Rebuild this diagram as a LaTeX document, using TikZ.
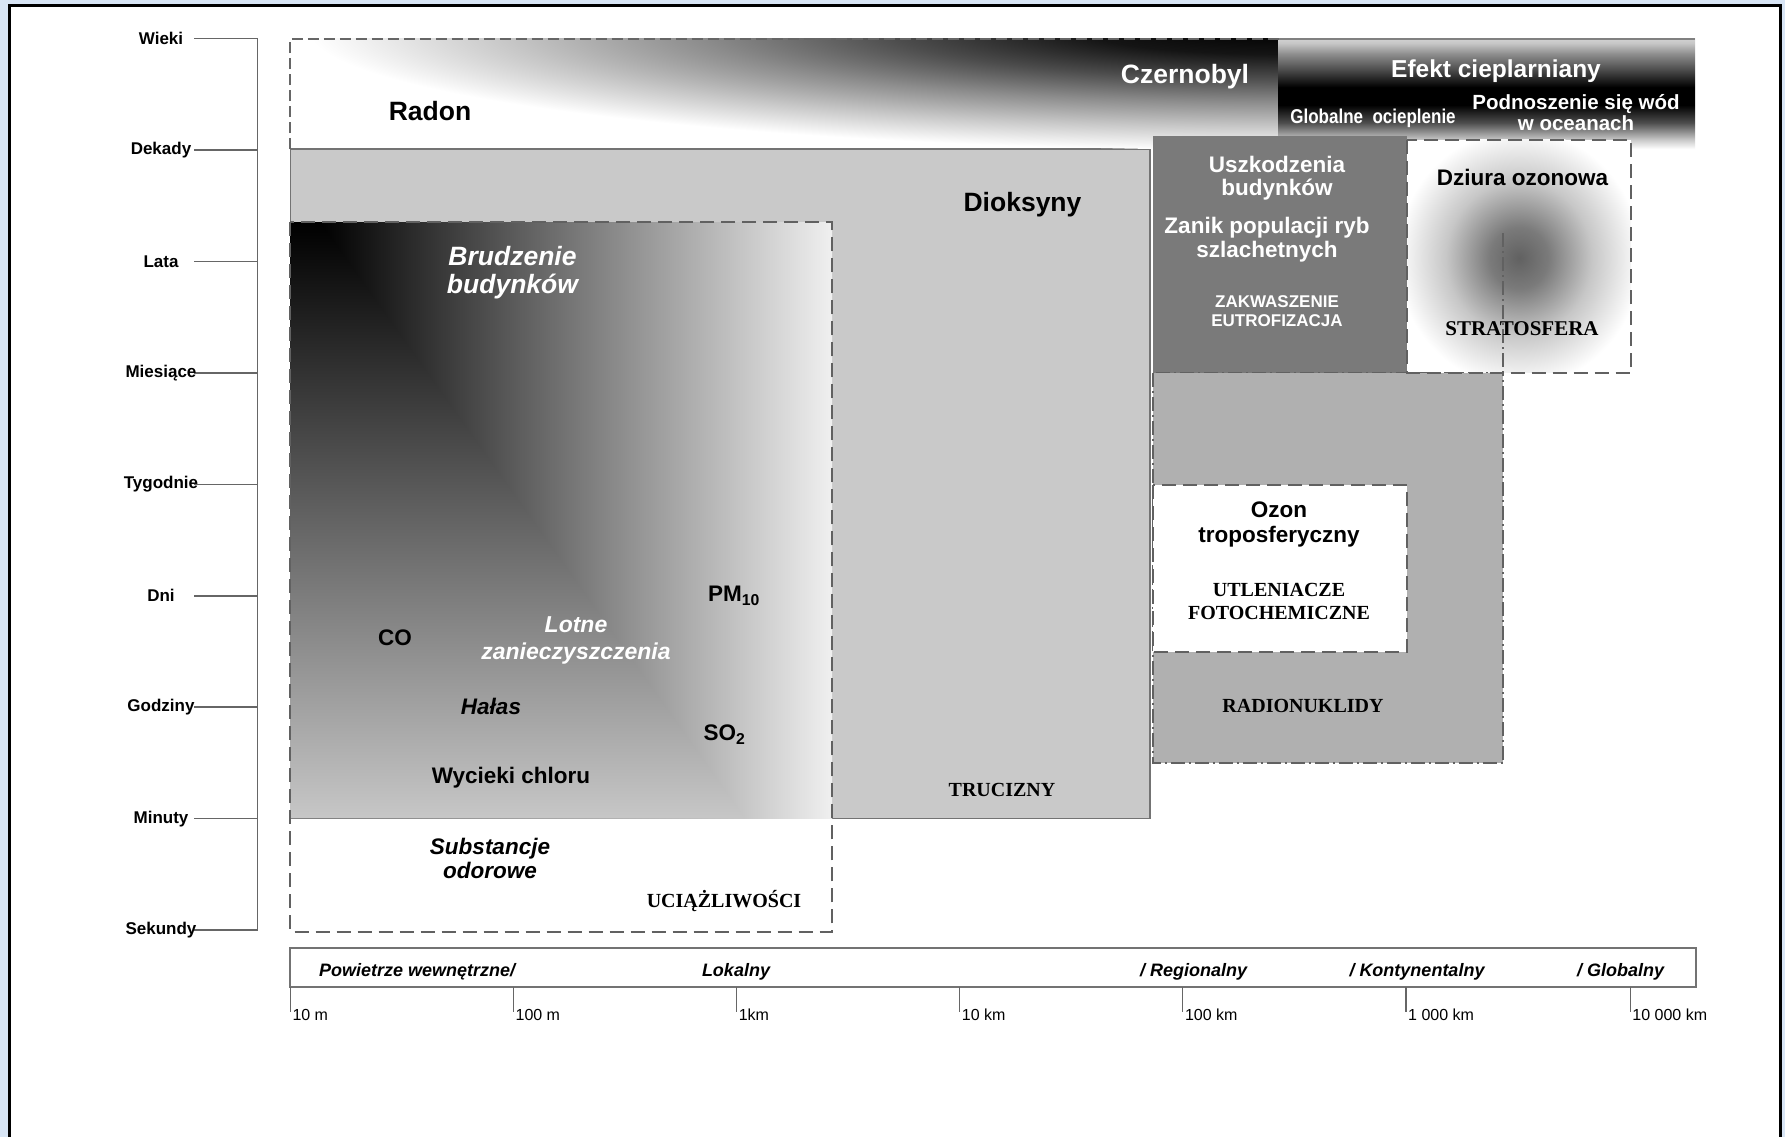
\documentclass[tikz,border=0pt]{standalone}
\usepackage{fontspec}
\setmainfont{Liberation Sans}
\newfontfamily\serifb{Liberation Serif}
\newfontfamily\narrowf[FakeStretch=0.85]{Liberation Sans}
\newcommand{\mfs}[2]{\fontsize{#1}{#2}\selectfont}
\definecolor{bgblue}{RGB}{216,229,245}
\pgfdeclareradialshading{radonsh}{\pgfpoint{0bp}{0bp}}{color(0bp)=(black); color(5bp)=(black!92); color(10bp)=(black!70); color(15bp)=(black!45); color(20bp)=(black!22); color(25bp)=(white); color(50bp)=(white)}
\pgfdeclareradialshading{ozonesh}{\pgfpoint{0bp}{0bp}}{color(0bp)=(black!62); color(6bp)=(black!52); color(15bp)=(black!22); color(25bp)=(white); color(50bp)=(white)}
\pgfdeclareverticalshading{efektsh}{100bp}{color(0bp)=(white); color(25bp)=(white); color(29bp)=(black!20); color(37bp)=(black!70); color(45bp)=(black); color(53bp)=(black); color(61bp)=(black!70); color(68bp)=(black!45); color(73bp)=(black!22); color(75bp)=(black!18); color(100bp)=(black!18)}
\begin{document}
\begin{tikzpicture}[x=1pt,y=-1pt,
  every node/.style={inner sep=0pt, align=center},
  big/.style={font=\bfseries\mfs{26.5}{28}},
  mid/.style={font=\bfseries\mfs{22.5}{23.5}},
  midit/.style={font=\bfseries\itshape\mfs{22.5}{25}},
  caps/.style={font=\serifb\bfseries\mfs{20}{23}},
  axl/.style={font=\bfseries\mfs{17}{18}},
  barl/.style={font=\bfseries\itshape\mfs{18}{19}},
  tickl/.style={font=\mfs{16}{17}},
  dashbox/.style={draw=black!62, line width=2pt, dash pattern=on 14pt off 7pt},
]
\useasboundingbox (0,0) rectangle (1785,1137);
\fill[bgblue] (0,0) rectangle (1785,1137);
\draw[line width=3pt, fill=white] (9,6) rectangle (1780,1150);

% Dioksyny box
\filldraw[fill=black!21, draw=black!55, line width=1.5pt] (290.3,149.1) rectangle (1150,818.5);

% Radon / Czernobyl shading
\begin{scope}
\clip (290.3,38.7) rectangle (1278.5,148.4);
\shade[shading=radonsh] (1278.5,30) ellipse [x radius=970pt, y radius=120pt];
\end{scope}
% Efekt cieplarniany shading
\shade[shading=efektsh] (1278.5,38.7) rectangle (1695,149.1);
\draw[black!60, line width=1.8pt, dash pattern=on 11pt off 5pt] (290.3,149.1) -- (290.3,38.7) -- (1278.5,38.7);
\draw[black!50, line width=1.8pt] (1278.5,38.7) -- (1695,38.7);

% Brudzenie / UCIAZLIWOSCI box
\fill[white] (290.3,222.3) rectangle (832,932);
\begin{scope}
\clip (290.3,222.3) rectangle (832,818.5);
\fill[black] (290.3,222.3) rectangle (320,818.5);
\shade[left color=black, right color=white] (320,222.3) rectangle (865,818.5);
\shade[top color=black, bottom color=black!22] (290.3,222.3) -- (320,222.3) -- (745,818.5) -- (290.3,818.5) -- cycle;
\end{scope}
\draw[dashbox] (290.3,222.3) rectangle (832,932);

% Uszkodzenia box
\fill[black!52] (1153,136) rectangle (1407,372.5);
% Dziura ozonowa box
\fill[white] (1407,140) rectangle (1631,372.5);
\begin{scope}
\clip (1407,140) rectangle (1631,372.5);
\shade[shading=ozonesh] (1519,258) ellipse [x radius=122pt, y radius=128pt];
\end{scope}
% Radionuklidy box
\fill[black!31] (1153,372.5) rectangle (1503,763);
\draw[black!62, line width=1.8pt, dash pattern=on 14pt off 4pt on 2pt off 4pt] (1153,372.5) rectangle (1503,763);
\draw[black!62, line width=1.2pt, dash pattern=on 14pt off 4pt on 2pt off 4pt] (1503,233) -- (1503,372.5);
\draw[dashbox] (1407,140) rectangle (1631,372.5);
% Ozon box
\filldraw[fill=white, dashbox] (1153,485) rectangle (1407,652);

% time axis
\draw[black!60, line width=1.8pt] (257.5,38.7) -- (257.5,930.1);
\foreach \lab [count=\i from 0] in {Wieki,Dekady,Lata,Miesiące,Tygodnie,Dni,Godziny,Minuty,Sekundy} {
  \pgfmathsetmacro{\yy}{38.7+111.42*\i}
  \coordinate (ax\i) at (257.5,\yy);
  \coordinate (tk\i) at (194,\yy);
  \draw[black!60, line width=1.5pt] (tk\i) -- (ax\i);
  \node[axl] (lab\i) at (161,\yy) {\lab};
}

% distance bar
\draw[black!55, line width=2pt] (290.3,948.3) rectangle (1696,987.3);
\foreach \x/\t [count=\i] in {290.3/10 m, 513.4/100 m, 736.6/1km, 959.7/10 km, 1182.8/100 km, 1406/1 000 km, 1630.2/10 000 km} {
  \coordinate (bt\i) at (\x,987.3);
  \coordinate (bb\i) at (\x,1012);
  \draw[black!60, line width=1.2pt] (bt\i) -- (bb\i);
  \node[tickl, anchor=west] (tl\i) at (\x+2,1015) {\t};
}
\node[barl, anchor=west] (pw) at (319,971.7) {Powietrze wewnętrzne/};
\node[barl] (lok) at (736,971.7) {Lokalny};
\node[barl] (reg) at (1193.6,971.7) {/ Regionalny};
\node[barl] (kont) at (1417,971.7) {/ Kontynentalny};
\node[barl] (glo) at (1620.5,971.7) {/ Globalny};

% texts top
\node[big] (radon) at (430,111) {Radon};
\node[big, text=white] (czern) at (1185,77) {Czernobyl};
\node[font=\bfseries\mfs{24.5}{26}, text=white] (efekt) at (1496,71) {Efekt cieplarniany};
\node[font=\narrowf\bfseries\mfs{20}{22}, text=white] (globo) at (1373,118) {Globalne\ \ ocieplenie};
\node[font=\bfseries\mfs{20.5}{21.6}, text=white] (podn) at (1576,112.5) {Podnoszenie się wód\\w oceanach};

% Dioksyny
\node[big] (diok) at (1022.5,205) {Dioksyny};
\node[caps] (truc) at (1002,790) {TRUCIZNY};

% Uszkodzenia
\node[font=\bfseries\mfs{22.5}{23.5}, text=white] (uszk) at (1277,178) {Uszkodzenia\\budynków};
\node[font=\bfseries\mfs{22.5}{24}, text=white] (zanik) at (1267,240) {Zanik populacji ryb\\szlachetnych};
\node[font=\bfseries\mfs{17}{19}, text=white] (zakw) at (1277,311.2) {ZAKWASZENIE\\EUTROFIZACJA};

% Dziura
\node[mid] (dziura) at (1522.5,177.3) {Dziura ozonowa};
\node[font=\serifb\bfseries\mfs{21}{23}] (strato) at (1522,329) {STRATOSFERA};

% Ozon
\node[font=\bfseries\mfs{22.5}{24.5}] (ozon) at (1279,524.5) {Ozon\\troposferyczny};
\node[caps] (utl) at (1279,601.7) {UTLENIACZE\\FOTOCHEMICZNE};
\node[caps] (radio) at (1303,706) {RADIONUKLIDY};

% Brudzenie box texts
\node[font=\bfseries\itshape\mfs{26.5}{28}, text=white] (brud) at (512.5,273) {Brudzenie\\budynków};
\node[mid] (co) at (395,638) {CO};
\node[font=\bfseries\itshape\mfs{23}{27}, text=white] (lotne) at (576,640) {Lotne\\zanieczyszczenia};
\node[mid] (pm) at (734,596) {PM\textsubscript{10}};
\node[midit] (halas) at (491,706.5) {Hałas};
\node[mid] (so) at (724.5,734.5) {SO\textsubscript{2}};
\node[mid] (wyc) at (511,777.6) {Wycieki chloru};
\node[font=\bfseries\itshape\mfs{22.5}{24}] (subst) at (490,858.5) {Substancje\\odorowe};
\node[caps] (ucia) at (724,901) {UCIĄŻLIWOŚCI};
\end{tikzpicture}
\end{document}
